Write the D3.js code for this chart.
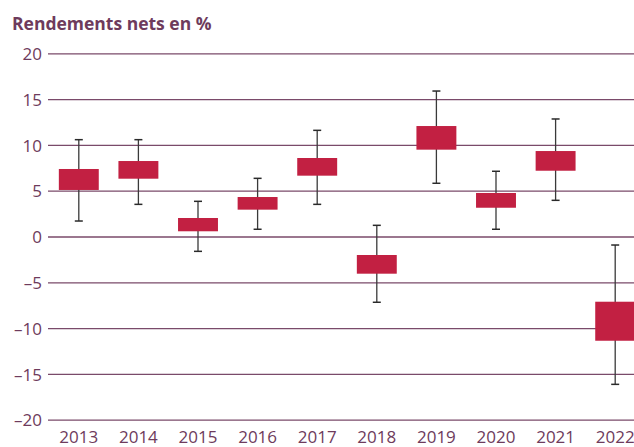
<!DOCTYPE html>
<html>
<head>
<meta charset="utf-8">
<script src="https://cdn.jsdelivr.net/npm/d3@7"></script>
<style>
  body { margin: 0; background: #fff; }
  text { font-family: "Open Sans", sans-serif; fill: #6e3b5c; }
</style>
</head>
<body>
<div id="chart"></div>
<script>
(function () {
  "use strict";

  // data
  const years = ["2013", "2014", "2015", "2016", "2017", "2018", "2019", "2020", "2021", "2022"];
  const boxHigh = [7.37, 8.24, 2.02, 4.31, 8.57, -2.02, 12.06, 4.75, 9.33, -7.12];
  const boxLow = [5.08, 6.31, 0.57, 2.93, 6.64, -4.06, 9.48, 3.14, 7.18, -11.38];
  const whiskerHigh = [10.57, 10.57, 3.84, 6.35, 11.59, 1.22, 15.88, 7.12, 12.83, -0.93];
  const whiskerLow = [1.69, 3.51, -1.62, 0.79, 3.51, -7.18, 5.81, 0.79, 3.95, -16.14];
  const yTicks = [20, 15, 10, 5, 0, -5, -10, -15, -20];

  const width = 634;
  const height = 447;

  const svg = d3
    .select("#chart")
    .append("svg")
    .attr("width", width)
    .attr("height", height);

  const x = d3
    .scaleBand()
    .domain(years)
    .range([49, 645])
    .paddingInner(0.33)
    .paddingOuter(0.165);

  const y = d3.scaleLinear().domain([-20, 20]).range([419.7, 53.3]);

  // title
  svg
    .append("text")
    .attr("x", 12)
    .attr("y", 30)
    .style("font-weight", "bold")
    .style("font-size", "17.5px")
    .text("Rendements nets en %");

  // gridlines + y labels
  const yAxis = svg
    .append("g")
    .attr("transform", "translate(48,0)")
    .call(
      d3
        .axisLeft(y)
        .tickValues(yTicks)
        .tickSize(-(width - 48))
        .tickPadding(6)
        .tickFormat((d) => (d < 0 ? "\u2013" + Math.abs(d) : d))
    );
  yAxis.select(".domain").remove();
  yAxis.selectAll("line").attr("stroke", "#7a4a6a").attr("stroke-width", 1.3);
  yAxis
    .selectAll("text")
    .style("font-size", "17px")
    .attr("fill", "#6e3b5c")
    .attr("dy", "0.36em");

  // x labels
  const xAxis = svg
    .append("g")
    .attr("transform", "translate(0,427)")
    .call(d3.axisBottom(x).tickSize(0).tickPadding(0));
  xAxis.select(".domain").remove();
  xAxis
    .selectAll("text")
    .style("font-size", "17px")
    .attr("fill", "#6e3b5c")
    .attr("dy", "0.95em");

  const idx = d3.range(years.length);
  const g = svg.append("g");

  // whiskers
  g.selectAll(".whisker")
    .data(idx)
    .join("line")
    .attr("class", "whisker")
    .attr("x1", (i) => x(years[i]) + x.bandwidth() / 2)
    .attr("x2", (i) => x(years[i]) + x.bandwidth() / 2)
    .attr("y1", (i) => y(whiskerHigh[i]))
    .attr("y2", (i) => y(whiskerLow[i]))
    .attr("stroke", "#3a3a3a")
    .attr("stroke-width", 1.3);

  // caps
  ["top", "bottom"].forEach((end) => {
    g.selectAll(".cap-" + end)
      .data(idx)
      .join("line")
      .attr("class", "cap-" + end)
      .attr("x1", (i) => x(years[i]) + x.bandwidth() / 2 - 4)
      .attr("x2", (i) => x(years[i]) + x.bandwidth() / 2 + 4)
      .attr("y1", (i) => y(end === "top" ? whiskerHigh[i] : whiskerLow[i]))
      .attr("y2", (i) => y(end === "top" ? whiskerHigh[i] : whiskerLow[i]))
      .attr("stroke", "#2a2a2a")
      .attr("stroke-width", 1.5);
  });

  // boxes
  g.selectAll(".box")
    .data(idx)
    .join("rect")
    .attr("class", "box")
    .attr("x", (i) => x(years[i]))
    .attr("width", x.bandwidth())
    .attr("y", (i) => y(boxHigh[i]))
    .attr("height", (i) => y(boxLow[i]) - y(boxHigh[i]))
    .attr("fill", "#c22042");
})();
</script>
</body>
</html>
